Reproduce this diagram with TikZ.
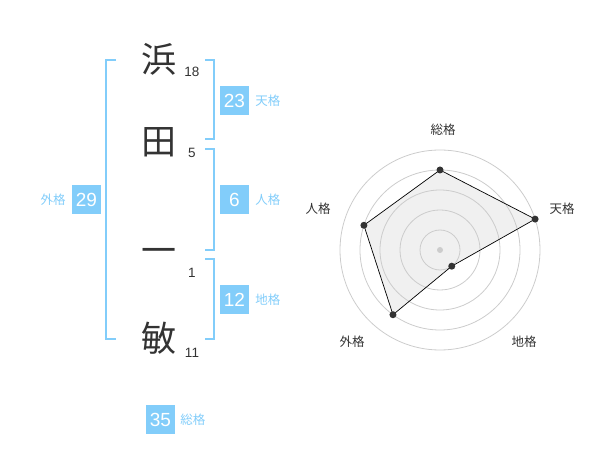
\documentclass[tikz,border=0pt]{standalone}
\usepackage{fontspec}
\setmainfont{Liberation Sans}
\newfontfamily\jpfont{Noto Sans CJK JP}
\usetikzlibrary{positioning}
\definecolor{skyblue}{RGB}{130,205,250}
\definecolor{inkgray}{RGB}{51,51,51}
\begin{document}
\begin{tikzpicture}[x=1pt, y=-1pt,
        kanji/.style={font=\jpfont\fontsize{35}{35}\selectfont, text=inkgray, inner sep=0pt},
        strokes/.style={font=\fontsize{13.5}{13.5}\selectfont, text=inkgray, inner sep=0pt},
        scorebox/.style={fill=skyblue, text=white, minimum size=29pt, inner sep=0pt,
            font=\fontsize{19}{19}\selectfont},
        kaku/.style={text=skyblue, font=\jpfont\fontsize{12.5}{12.5}\selectfont, inner sep=0pt},
        bracket/.style={draw=skyblue, line width=2pt},
        ring/.style={draw=black!20, line width=0.8pt},
        axislabel/.style={font=\jpfont\fontsize{12.5}{12.5}\selectfont, text=inkgray, inner sep=0pt},
        mypoint/.style={shape=circle, inner sep=0pt, minimum size=7pt, fill=inkgray}
    ]
    \useasboundingbox (0,0) rectangle (600,470);

    % name and stroke counts
    \foreach \myname/\mychar/\myy/\mycount/\myny in
        {hama/浜/59/18/72, ta/田/142/5/153, ichi/一/256/1/273, bin/敏/338/11/353} {
        \node [kanji] (\myname) at (159,\myy) {\mychar};
        \node [strokes] (\myname-n) at (192,\myny) {\mycount};
    }

    % brackets
    \draw [bracket] (116,60) -- (106,60) -- (106,339) -- (116,339);
    \draw [bracket] (205,60) -- (214,60) -- (214,139) -- (205,139);
    \draw [bracket] (205,149) -- (214,149) -- (214,250) -- (205,250);
    \draw [bracket] (205,259) -- (214,259) -- (214,339) -- (205,339);

    % scores
    \node [scorebox] (ten) at (234.5,100.5) {23};
    \node [kaku, right=6pt of ten] (ten-l) {天格};
    \node [scorebox] (jin) at (234.5,200) {6};
    \node [kaku, right=6pt of jin] (jin-l) {人格};
    \node [scorebox] (chi) at (234.5,300) {12};
    \node [kaku, right=6pt of chi] (chi-l) {地格};
    \node [scorebox] (gai) at (86.5,200) {29};
    \node [kaku, left=6pt of gai] (gai-l) {外格};
    \node [scorebox] (sou) at (160.5,419.5) {35};
    \node [kaku, right=5pt of sou] (sou-l) {総格};

    % radar chart
    \begin{scope}[shift={(440,250)}, yscale=-1]
        \foreach \myname/\myang/\myval in {rs/90/80, rt/18/100, rc/-54/20, rg/-126/80, rj/162/80}
            \coordinate (\myname) at (\myang:\myval);
        \fill [black!6] (rs) -- (rt) -- (rc) -- (rg) -- (rj) -- cycle;
        \foreach \myr in {20,40,...,100}
            \draw [ring] (0,0) circle [radius=\myr pt];
        \node [shape=circle, inner sep=0pt, minimum size=6pt, fill=black!20] (center) at (0,0) {};
        \draw [black, line width=0.7pt] (rs) -- (rt) -- (rc) -- (rg) -- (rj) -- cycle;
        \foreach \myname in {rs,rt,rc,rg,rj}
            \node [mypoint] (\myname-p) at (\myname) {};
        \node [axislabel] (sou-a) at (3,120) {総格};
        \node [axislabel] (ten-a) at (122,41) {天格};
        \node [axislabel] (jin-a) at (-122,41) {人格};
        \node [axislabel] (gai-a) at (-88,-92) {外格};
        \node [axislabel] (chi-a) at (84,-92) {地格};
    \end{scope}
\end{tikzpicture}
\end{document}
